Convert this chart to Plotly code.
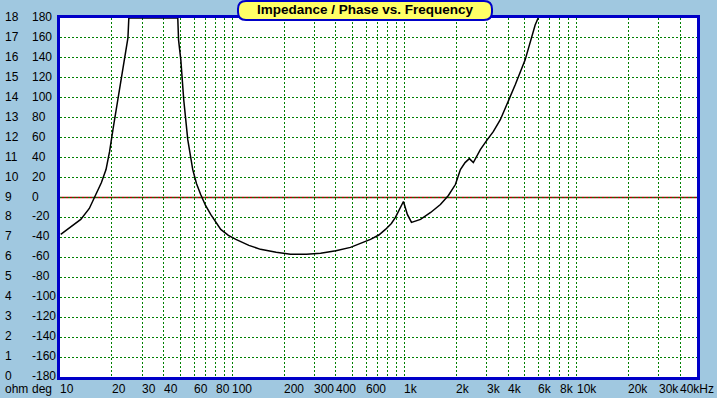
import math
import plotly.graph_objects as go

# ---- data ----
freq_hz = [10.1, 11.5, 13.2, 14.8, 16.2, 17.4, 18.5, 19.4, 20.3, 21.5, 22.6, 23.8, 24.8, 25.1,
           48.3, 48.8, 50.3, 52.3, 55.2, 59.0, 62.0, 65.6, 70.0, 75.0, 85.8, 95.0, 105, 125,
           146, 180, 218, 270, 326, 400, 486, 635, 710,
           776, 840, 887, 948, 987, 1040, 1099, 1240, 1420, 1618, 1800, 1977, 2114, 2250, 2383,
           2513, 2760, 3000, 3281, 3605, 4000, 4400, 5024, 5744, 5980]
impedance_ohm = [7.15, 7.5, 7.9, 8.45, 9.15, 9.75, 10.4, 11.3, 12.4, 13.7, 14.9, 15.9, 17.0, 18.0,
                 18.0, 16.9, 15.9, 13.9, 11.9, 10.4, 9.7, 9.15, 8.6, 8.15, 7.4, 7.1, 6.9, 6.6,
                 6.4, 6.25, 6.15, 6.15, 6.2, 6.33, 6.5, 6.9, 7.12,
                 7.4, 7.7, 8.0, 8.5, 8.8, 8.15, 7.75, 7.9, 8.25, 8.65, 9.1, 9.65, 10.4, 10.75, 10.95,
                 10.75, 11.4, 11.85, 12.3, 12.9, 13.8, 14.65, 15.9, 17.65, 18.0]

x_grid_hz = [20, 30, 40, 50, 60, 70, 80, 90, 100, 200, 300, 400, 500, 600, 700, 800, 900,
             1000, 2000, 3000, 4000, 5000, 6000, 7000, 8000, 9000, 10000, 20000, 30000, 40000]
x_label_hz = [10, 20, 30, 40, 60, 80, 100, 200, 300, 400, 600, 1000, 2000, 3000, 4000,
              6000, 8000, 10000, 20000, 30000, 40000]
x_label_text = ["10", "20", "30", "40", "60", "80", "100", "200", "300", "400", "600", "1k",
                "2k", "3k", "4k", "6k", "8k", "10k", "20k", "30k", "40kHz"]
ohm_ticks = list(range(0, 19))
ohm_labels = [str(v) for v in ohm_ticks]
deg_labels = ["-180", "-160", "-140", "-120", "-100", "-80", "-60", "-40", "-20", "0",
              "20", "40", "60", "80", "100", "120", "140", "160", "180"]
zero_deg_ohm = 9
freq_range_hz = [10, 50000]
title_text = "Impedance / Phase vs. Frequency"

BG = "#A0C8E0"
BLUE = "#0000C8"
GRID = "#008000"
FONT = "Liberation Sans"
DOT = "2px,2px"

fig = go.Figure()
fig.add_trace(go.Scatter(x=freq_hz, y=impedance_ohm, mode="lines",
                         line=dict(color="black", width=1.5), hoverinfo="skip",
                         showlegend=False, cliponaxis=False))

fig.update_xaxes(type="log", range=[math.log10(freq_range_hz[0]), math.log10(freq_range_hz[1])],
                 tickvals=x_grid_hz, showticklabels=False, ticks="",
                 showgrid=True, gridcolor=GRID, griddash=DOT, gridwidth=1,
                 showline=True, linecolor=BLUE, linewidth=3, mirror=True, zeroline=False)
fig.update_yaxes(range=[0, 18], tickvals=ohm_ticks, showticklabels=False, ticks="",
                 showgrid=True, gridcolor=GRID, griddash=DOT, gridwidth=1,
                 showline=True, linecolor=BLUE, linewidth=3, mirror=True, zeroline=False)

# 0 deg reference line
fig.add_shape(type="line", xref="paper", x0=0, x1=1, yref="y", y0=zero_deg_ohm, y1=zero_deg_ohm,
              line=dict(color="#A80000", width=1.5), layer="below")

ann = []
for f, t in zip(x_label_hz, x_label_text):
    ann.append(dict(x=math.log10(f), xref="x", y=0, yref="paper", yshift=-12, text=t,
                    xanchor="left", yanchor="middle", showarrow=False, xshift=-2,
                    font=dict(family=FONT, size=12, color="black")))
for v, a, b in zip(ohm_ticks, ohm_labels, deg_labels):
    ann.append(dict(x=0, xref="paper", xshift=-57, y=v, yref="y", yshift=1, text=a,
                    xanchor="left", yanchor="middle", showarrow=False,
                    font=dict(family=FONT, size=12, color="black")))
    ann.append(dict(x=0, xref="paper", xshift=-30, y=v, yref="y", yshift=1, text=b,
                    xanchor="left", yanchor="middle", showarrow=False,
                    font=dict(family=FONT, size=12, color="black")))
ann.append(dict(x=0, xref="paper", xshift=-57, y=0, yref="paper", yshift=-12, text="ohm",
                xanchor="left", yanchor="middle", showarrow=False,
                font=dict(family=FONT, size=12, color="black")))
ann.append(dict(x=0, xref="paper", xshift=-30, y=0, yref="paper", yshift=-12, text="deg",
                xanchor="left", yanchor="middle", showarrow=False,
                font=dict(family=FONT, size=12, color="black")))
# title
ann.append(dict(x=0.5, xref="paper", y=1, yref="paper", yshift=9, xshift=-13,
                text="<b>" + title_text + "</b>",
                xanchor="center", yanchor="middle", showarrow=False,
                font=dict(family=FONT, size=13.5, color="black")))

W, H = 717, 398
ml, mr, mt, mb = 60, 20, 18, 21
pw, ph = W - ml - mr, H - mt - mb


def px_to_paper(px, py):
    return (px - ml) / pw, (H - mb - py) / ph


# rounded title box
x0p, x1p, y0p, y1p, r = 238, 492, 1, 20, 8
a0, _ = px_to_paper(x0p, 0)
a1, _ = px_to_paper(x1p, 0)
_, b0 = px_to_paper(0, y1p)
_, b1 = px_to_paper(0, y0p)
rx = r / pw
ry = r / ph
path = (f"M {a0+rx},{b1} L {a1-rx},{b1} Q {a1},{b1} {a1},{b1-ry} L {a1},{b0+ry} "
        f"Q {a1},{b0} {a1-rx},{b0} L {a0+rx},{b0} Q {a0},{b0} {a0},{b0+ry} L {a0},{b1-ry} "
        f"Q {a0},{b1} {a0+rx},{b1} Z")
fig.add_shape(type="path", xref="paper", yref="paper", path=path,
              fillcolor="#FFFF66", line=dict(color=BLUE, width=2), layer="above")

fig.update_layout(width=W, height=H, margin=dict(l=ml, r=mr, t=mt, b=mb, pad=0),
                  paper_bgcolor=BG, plot_bgcolor="white", annotations=ann,
                  font=dict(family=FONT, size=12), showlegend=False)
fig.write_html("out.html", config={"displayModeBar": False, "staticPlot": True},
               post_script="document.body.style.margin='0';document.body.style.overflow='hidden';")
